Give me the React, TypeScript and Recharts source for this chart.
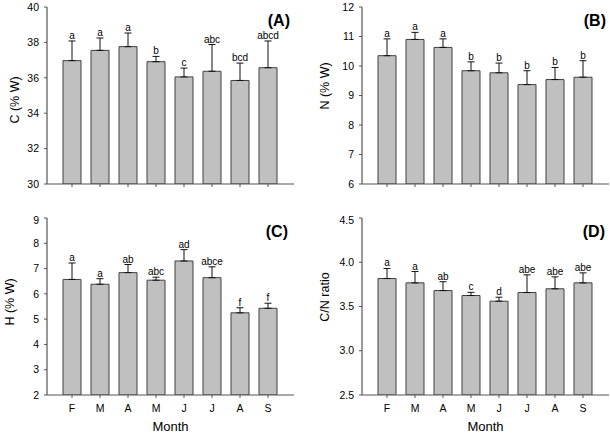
import React from 'react';
import { ComposedChart, Bar, Line, XAxis, YAxis, ErrorBar, LabelList } from 'recharts';

const months = ['F', 'M', 'A', 'M', 'J', 'J', 'A', 'S'];

const cValues = [36.97, 37.55, 37.76, 36.91, 36.05, 36.37, 35.85, 36.57];
const cErr = [1.11, 0.7, 0.77, 0.3, 0.5, 1.51, 0.98, 1.51];
const cLetters = ['a', 'a', 'a', 'b', 'c', 'abc', 'bcd', 'abcd'];
const cTicks = [30, 32, 34, 36, 38, 40];

const nValues = [10.35, 10.9, 10.63, 9.84, 9.77, 9.37, 9.54, 9.62];
const nErr = [0.57, 0.24, 0.29, 0.3, 0.33, 0.47, 0.41, 0.56];
const nLetters = ['a', 'a', 'a', 'b', 'b', 'b', 'b', 'b'];
const nTicks = [6, 7, 8, 9, 10, 11, 12];

const hValues = [6.57, 6.38, 6.84, 6.54, 7.3, 6.64, 5.25, 5.43];
const hErr = [0.65, 0.22, 0.32, 0.12, 0.45, 0.43, 0.2, 0.2];
const hLetters = ['a', 'a', 'ab', 'abc', 'ad', 'abce', 'f', 'f'];
const hTicks = [2, 3, 4, 5, 6, 7, 8, 9];

const cnValues = [3.816, 3.767, 3.68, 3.624, 3.56, 3.658, 3.7, 3.767];
const cnErr = [0.114, 0.128, 0.1, 0.036, 0.045, 0.2, 0.135, 0.113];
const cnLetters = ['a', 'a', 'ab', 'c', 'd', 'abe', 'abe', 'abe'];
const cnTicks = [2.5, 3.0, 3.5, 4.0, 4.5];

const FONT = '"Liberation Sans", Arial, Helvetica, sans-serif';
const AXIS = '#555';

function build(values: number[], errs: number[], letters: string[]) {
  return months.map((m, i) => ({
    month: m,
    value: values[i],
    err: [0, errs[i]],
    top: values[i] + errs[i],
    letter: letters[i],
  }));
}

type PanelProps = {
  left: number;
  top: number;
  width: number;
  height: number;
  yWidth: number;
  marginTop: number;
  marginRight: number;
  xHeight: number;
  values: number[];
  errs: number[];
  letters: string[];
  ticks: number[];
  decimals: number;
  showX: boolean;
};

function Panel(p: PanelProps) {
  const data = build(p.values, p.errs, p.letters);
  const domain: [number, number] = [p.ticks[0], p.ticks[p.ticks.length - 1]];
  return (
    <div style={{ position: 'absolute', left: p.left, top: p.top }}>
      <ComposedChart
        width={p.width}
        height={p.height}
        data={data}
        margin={{ top: p.marginTop, right: p.marginRight, bottom: 0, left: 0 }}
        style={{ fontFamily: FONT }}
      >
        <XAxis
          dataKey="month"
          xAxisId="b"
          height={p.xHeight}
          padding={{ left: 11, right: 12 }}
          axisLine={{ stroke: AXIS, strokeWidth: 1.2 }}
          tickLine={{ stroke: AXIS }}
          tickSize={3}
          tickMargin={7}
          tick={{ fill: '#000', fontSize: 10.5, fontFamily: FONT }}
          tickFormatter={p.showX ? undefined : () => ''}
          interval={0}
          label={
            p.showX
              ? { value: 'Month', position: 'insideBottom', offset: 4, fill: '#000', fontSize: 13, fontFamily: FONT }
              : undefined
          }
        />
        <XAxis
          dataKey="month"
          xAxisId="t"
          orientation="top"
          height={0}
          padding={{ left: 11, right: 12 }}
          axisLine={{ stroke: AXIS, strokeWidth: 1.2 }}
          tick={false}
          tickLine={false}
        />
        <YAxis
          yAxisId="l"
          width={p.yWidth}
          domain={domain}
          ticks={p.ticks}
          type="number"
          allowDataOverflow
          axisLine={{ stroke: AXIS, strokeWidth: 1.2 }}
          tickLine={{ stroke: AXIS }}
          tickSize={3}
          tickMargin={5}
          tick={{ fill: '#000', fontSize: 10.5, fontFamily: FONT }}
          tickFormatter={(v: number) => v.toFixed(p.decimals)}
        />
        <YAxis
          yAxisId="r"
          orientation="right"
          width={0}
          domain={domain}
          type="number"
          axisLine={{ stroke: AXIS, strokeWidth: 1.2 }}
          tick={false}
          tickLine={false}
        />
        <Bar
          dataKey="value"
          xAxisId="b"
          yAxisId="l"
          barSize={18}
          fill="#c0c0c0"
          stroke="#404040"
          strokeWidth={1}
          isAnimationActive={false}
        >
          <ErrorBar dataKey="err" direction="y" width={3.5} stroke="#111" strokeWidth={1} isAnimationActive={false} />
        </Bar>
        <Line
          dataKey="top"
          xAxisId="b"
          yAxisId="l"
          stroke="none"
          dot={false}
          activeDot={false}
          isAnimationActive={false}
          legendType="none"
        >
          <LabelList dataKey="letter" position="top" offset={2} fill="#000" fontSize={10} fontFamily={FONT} />
        </Line>
      </ComposedChart>
    </div>
  );
}

const yTitle = (text: string, cx: number, cy: number) => (
  <div
    style={{
      position: 'absolute',
      left: cx,
      top: cy,
      transform: 'translate(-50%, -50%) rotate(-90deg)',
      whiteSpace: 'nowrap',
      fontFamily: FONT,
      fontSize: 12.5,
      lineHeight: '14px',
      color: '#000',
    }}
  >
    {text}
  </div>
);

const tag = (text: string, right: number, top: number) => (
  <div
    style={{
      position: 'absolute',
      left: right - 60,
      width: 60,
      top,
      textAlign: 'right',
      fontFamily: FONT,
      fontWeight: 'bold',
      fontSize: 16,
      lineHeight: '16px',
      color: '#000',
    }}
  >
    {text}
  </div>
);

export default function App() {
  return (
    <div style={{ position: 'absolute', left: 0, top: 0, width: 610, height: 435, background: '#fff', overflow: 'hidden' }}>
      <Panel left={0} top={0} width={300} height={215} yWidth={47} marginTop={7} marginRight={6} xHeight={31}
        values={cValues} errs={cErr} letters={cLetters} ticks={cTicks} decimals={0} showX={false} />
      <Panel left={305} top={0} width={305} height={215} yWidth={57} marginTop={7} marginRight={1} xHeight={31}
        values={nValues} errs={nErr} letters={nLetters} ticks={nTicks} decimals={0} showX={false} />
      <Panel left={0} top={215} width={300} height={220} yWidth={47} marginTop={3} marginRight={6} xHeight={40}
        values={hValues} errs={hErr} letters={hLetters} ticks={hTicks} decimals={0} showX={true} />
      <Panel left={305} top={215} width={305} height={220} yWidth={57} marginTop={3} marginRight={1} xHeight={40}
        values={cnValues} errs={cnErr} letters={cnLetters} ticks={cnTicks} decimals={1} showX={true} />
      {yTitle('C (% W)', 15, 100)}
      {yTitle('N (% W)', 325, 86)}
      {yTitle('H (% W)', 10, 302)}
      {yTitle('C/N ratio', 325, 297)}
      {tag('(A)', 290, 13)}
      {tag('(B)', 606, 13)}
      {tag('(C)', 288, 224)}
      {tag('(D)', 605, 224)}
    </div>
  );
}
